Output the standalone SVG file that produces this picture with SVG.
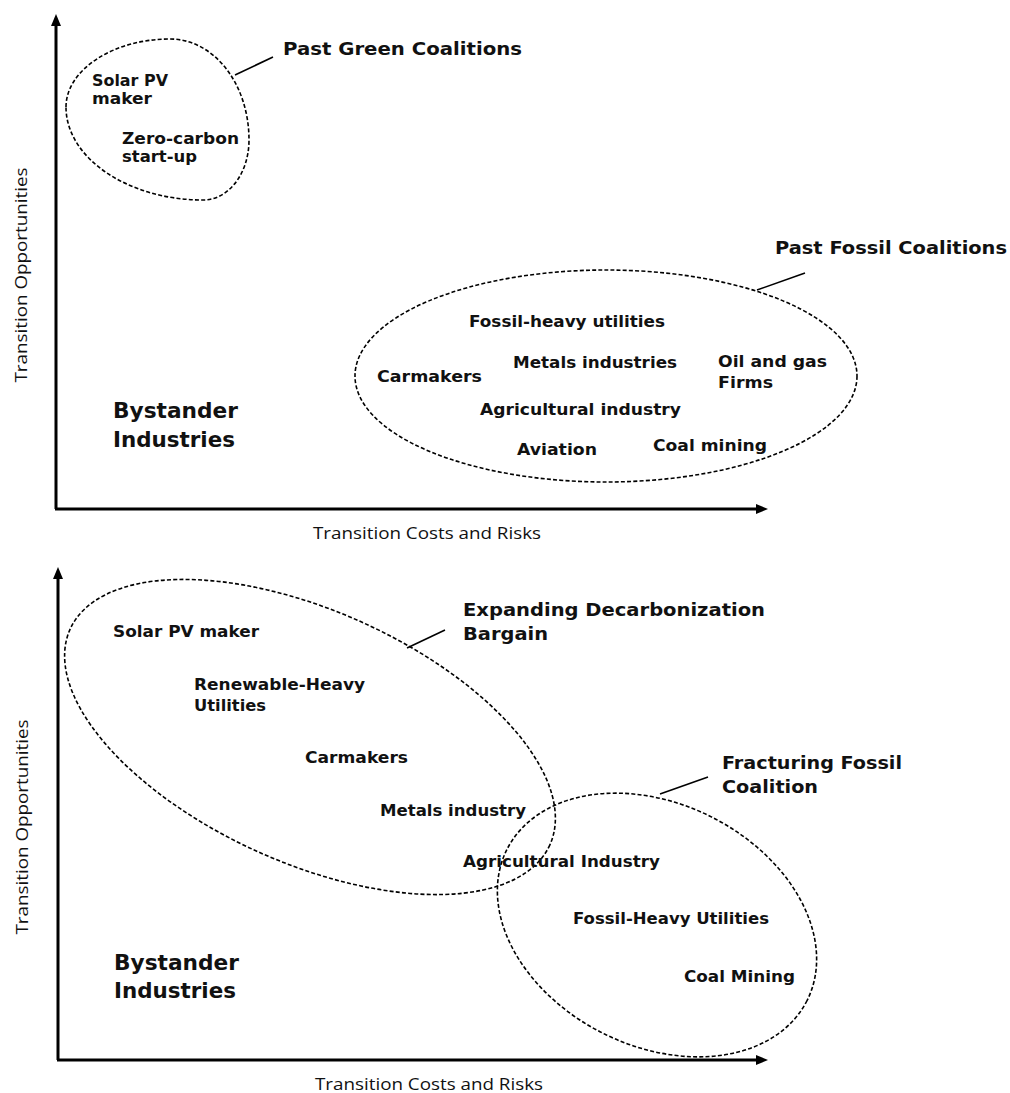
<svg xmlns="http://www.w3.org/2000/svg" width="1010" height="1093" viewBox="0 0 1010 1093">
<style>
  .bg { fill: #ffffff; }
  .axis { stroke: #000; stroke-width: 3; fill: none; marker-end: url(#arrow); }
  .zone { fill: none; stroke: #000; stroke-width: 1.6; stroke-dasharray: 4 2.2; }
  .lead { stroke: #000; stroke-width: 1.6; fill: none; }
  .item { font-family: "DejaVu Sans", "Liberation Sans", sans-serif; font-weight: bold; font-size: 16.5px; fill: #111; }
  .head { font-family: "DejaVu Sans", "Liberation Sans", sans-serif; font-weight: bold; font-size: 18.5px; fill: #111; }
  .big { font-family: "DejaVu Sans", "Liberation Sans", sans-serif; font-weight: bold; font-size: 21.5px; fill: #111; }
  .axlabel { font-family: "Open Sans", "Liberation Sans", sans-serif; font-size: 16.5px; fill: #111; }
</style>
<defs>
  <marker id="arrow" viewBox="0 0 12 10" refX="2" refY="5" markerWidth="12" markerHeight="10" markerUnits="userSpaceOnUse" orient="auto">
    <path d="M0,0 L12,5 L0,10 z" fill="#000"/>
  </marker>
</defs>
<rect class="bg" x="0" y="0" width="1010" height="1093"/>

<!-- ===== Top panel ===== -->
<g id="top-axes">
  <line class="axis" x1="56" y1="509" x2="56" y2="24"/>
  <line class="axis" x1="55" y1="509" x2="758" y2="509"/>
  <text class="axlabel" transform="translate(27,275) rotate(-90)" text-anchor="middle" textLength="215" lengthAdjust="spacingAndGlyphs">Transition Opportunities</text>
  <text class="axlabel" x="313" y="539" textLength="228" lengthAdjust="spacingAndGlyphs">Transition Costs and Risks</text>
</g>

<g id="connectors-top">
  <line class="lead" x1="235" y1="75" x2="273" y2="57"/>
  <line class="lead" x1="757" y1="290" x2="805" y2="273"/>
</g>

<g id="past-green-coalitions">
  <path class="zone" d="M66,107 C66,70 113,39 170,39 C214,39 249,84 249,140 C249,173 229,200 203,200 C128,200 66,158 66,107 Z"/>
  <text class="head" x="283" y="55" textLength="239" lengthAdjust="spacingAndGlyphs">Past Green Coalitions</text>
  <text class="item" x="92" y="86" textLength="76" lengthAdjust="spacingAndGlyphs">Solar PV</text>
  <text class="item" x="92" y="104" textLength="60" lengthAdjust="spacingAndGlyphs">maker</text>
  <text class="item" x="122" y="144" textLength="117" lengthAdjust="spacingAndGlyphs">Zero-carbon</text>
  <text class="item" x="122" y="162" textLength="75" lengthAdjust="spacingAndGlyphs">start-up</text>
</g>

<g id="past-fossil-coalitions">
  <ellipse class="zone" cx="606" cy="376" rx="251" ry="106"/>
  <text class="head" x="775" y="254" textLength="232" lengthAdjust="spacingAndGlyphs">Past Fossil Coalitions</text>
  <text class="item" x="469" y="327" textLength="196" lengthAdjust="spacingAndGlyphs">Fossil-heavy utilities</text>
  <text class="item" x="513" y="368" textLength="164" lengthAdjust="spacingAndGlyphs">Metals industries</text>
  <text class="item" x="377" y="382" textLength="105" lengthAdjust="spacingAndGlyphs">Carmakers</text>
  <text class="item" x="718" y="367" textLength="109" lengthAdjust="spacingAndGlyphs">Oil and gas</text>
  <text class="item" x="718" y="388" textLength="55" lengthAdjust="spacingAndGlyphs">Firms</text>
  <text class="item" x="480" y="415" textLength="201" lengthAdjust="spacingAndGlyphs">Agricultural industry</text>
  <text class="item" x="517" y="455" textLength="80" lengthAdjust="spacingAndGlyphs">Aviation</text>
  <text class="item" x="653" y="451" textLength="114" lengthAdjust="spacingAndGlyphs">Coal mining</text>
</g>

<g id="bystander-top">
  <text class="big" x="113" y="418" textLength="125" lengthAdjust="spacingAndGlyphs">Bystander</text>
  <text class="big" x="113" y="447" textLength="122" lengthAdjust="spacingAndGlyphs">Industries</text>
</g>

<!-- ===== Bottom panel ===== -->
<g id="bottom-axes">
  <line class="axis" x1="58" y1="1060" x2="58" y2="577"/>
  <line class="axis" x1="57" y1="1060" x2="758" y2="1060"/>
  <text class="axlabel" transform="translate(28,827) rotate(-90)" text-anchor="middle" textLength="215" lengthAdjust="spacingAndGlyphs">Transition Opportunities</text>
  <text class="axlabel" x="315" y="1090" textLength="228" lengthAdjust="spacingAndGlyphs">Transition Costs and Risks</text>
</g>

<g id="connectors-bottom">
  <line class="lead" x1="407" y1="648" x2="445" y2="630"/>
  <line class="lead" x1="660" y1="794" x2="708" y2="777"/>
</g>

<g id="expanding-decarbonization-bargain">
  <ellipse class="zone" cx="310" cy="737" rx="263" ry="126" transform="rotate(24.2 310 737)"/>
  <text class="head" x="463" y="616" textLength="302" lengthAdjust="spacingAndGlyphs">Expanding Decarbonization</text>
  <text class="head" x="463" y="640" textLength="85" lengthAdjust="spacingAndGlyphs">Bargain</text>
  <text class="item" x="113" y="637" textLength="146" lengthAdjust="spacingAndGlyphs">Solar PV maker</text>
  <text class="item" x="194" y="690" textLength="171" lengthAdjust="spacingAndGlyphs">Renewable-Heavy</text>
  <text class="item" x="194" y="711" textLength="72" lengthAdjust="spacingAndGlyphs">Utilities</text>
  <text class="item" x="305" y="763" textLength="103" lengthAdjust="spacingAndGlyphs">Carmakers</text>
  <text class="item" x="380" y="816" textLength="146" lengthAdjust="spacingAndGlyphs">Metals industry</text>
  <text class="item" x="463" y="867" textLength="197" lengthAdjust="spacingAndGlyphs">Agricultural Industry</text>
</g>

<g id="fracturing-fossil-coalition">
  <ellipse class="zone" cx="657" cy="925" rx="168" ry="121" transform="rotate(26.7 657 925)"/>
  <text class="head" x="722" y="769" textLength="180" lengthAdjust="spacingAndGlyphs">Fracturing Fossil</text>
  <text class="head" x="722" y="793" textLength="96" lengthAdjust="spacingAndGlyphs">Coalition</text>
  <text class="item" x="573" y="924" textLength="196" lengthAdjust="spacingAndGlyphs">Fossil-Heavy Utilities</text>
  <text class="item" x="684" y="982" textLength="111" lengthAdjust="spacingAndGlyphs">Coal Mining</text>
</g>

<g id="bystander-bottom">
  <text class="big" x="114" y="970" textLength="125" lengthAdjust="spacingAndGlyphs">Bystander</text>
  <text class="big" x="114" y="998" textLength="122" lengthAdjust="spacingAndGlyphs">Industries</text>
</g>
</svg>
